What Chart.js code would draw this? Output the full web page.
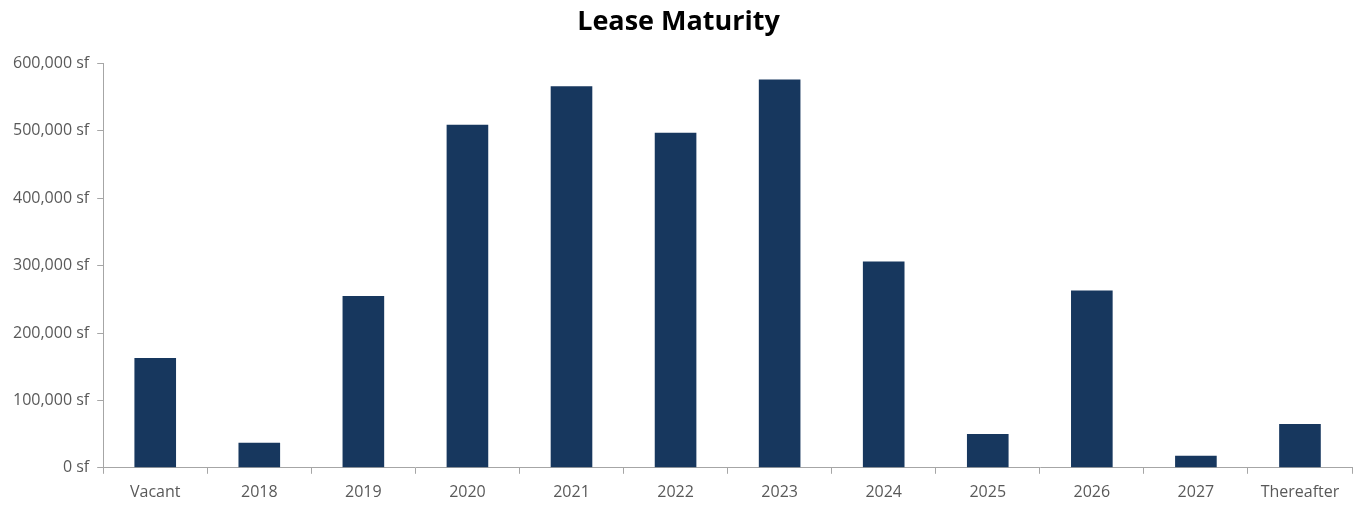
<!DOCTYPE html>
<html>
<head>
<meta charset="utf-8">
<script src="https://cdn.jsdelivr.net/npm/chart.js@4"></script>
<style>
  html, body { margin: 0; padding: 0; background: #fff; }
  .chart__box { width: 1363px; height: 508px; }
</style>
</head>
<body>
<div class="chart__box"><canvas class="chart__item"></canvas></div>
<script>
const categories = ['Vacant', '2018', '2019', '2020', '2021', '2022', '2023', '2024', '2025', '2026', '2027', 'Thereafter']
const leasedSf = [163000, 37000, 255000, 509000, 566000, 497000, 576000, 306000, 50000, 263000, 18000, 65000]
const yTicks = [0, 100000, 200000, 300000, 400000, 500000, 600000]

const axisGrey = '#a6a6a6'
const labelGrey = '#595959'

var ctx = document.querySelector('.chart__item').getContext('2d')

var myChart = new Chart(ctx, {
  type: 'bar',
  data: {
    labels: categories,
    datasets: [
      {
        label: 'Lease Maturity',
        data: leasedSf,
        backgroundColor: '#17375e',
        barPercentage: 0.4,
        categoryPercentage: 1,
      },
    ],
  },
  options: {
    responsive: true,
    maintainAspectRatio: false,
    animation: false,
    layout: {
      padding: { left: 5, right: 11, top: 0, bottom: -3 },
    },
    plugins: {
      legend: { display: false },
      tooltip: { enabled: false },
      title: {
        display: true,
        text: 'Lease Maturity',
        color: '#000',
        font: { family: 'Open Sans', size: 27, weight: 'bold' },
        padding: { top: 6, bottom: 25 },
      },
    },
    scales: {
      x: {
        offset: true,
        grid: {
          display: true,
          offset: true,
          drawOnChartArea: false,
          drawTicks: true,
          tickLength: 6,
          color: axisGrey,
        },
        border: { display: true, color: axisGrey, width: 1 },
        ticks: {
          color: labelGrey,
          padding: 9,
          font: { family: 'Open Sans', size: 16 },
        },
      },
      y: {
        min: 0,
        max: 600000,
        afterBuildTicks: (axis) => {
          axis.ticks = yTicks.map((v) => ({ value: v }))
        },
        grid: {
          display: true,
          drawOnChartArea: false,
          drawTicks: true,
          tickLength: 6,
          color: axisGrey,
        },
        border: { display: true, color: axisGrey, width: 1 },
        ticks: {
          color: labelGrey,
          padding: 8,
          font: { family: 'Open Sans', size: 16 },
          callback: (v) => v.toLocaleString('en-US') + ' sf',
        },
      },
    },
  },
})
</script>
</body>
</html>
